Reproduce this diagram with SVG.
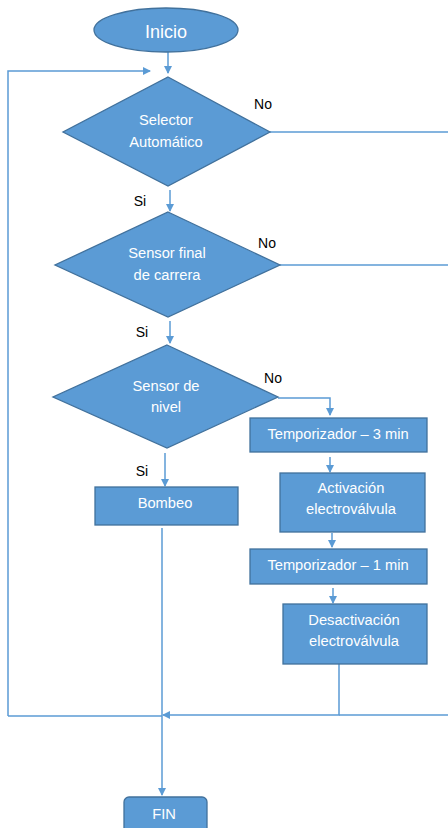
<svg xmlns="http://www.w3.org/2000/svg" width="448" height="828" viewBox="0 0 448 828">
<style>
.shape{fill:#5B9BD5;stroke:#41719C;stroke-width:1.3}
.t{font-family:"Liberation Sans",Arial,sans-serif;font-size:14.7px;fill:#fff;text-anchor:middle;dominant-baseline:central}
.lbl{font-family:"Liberation Sans",Arial,sans-serif;font-size:14px;fill:#000;text-anchor:middle;dominant-baseline:central}
.c{fill:none;stroke:#5B9BD5;stroke-width:1.5}
</style>
<defs>
<marker id="ah" markerWidth="8" markerHeight="8" refX="7" refY="4" orient="auto" markerUnits="userSpaceOnUse">
<path d="M0,0 L8,4 L0,8 Z" fill="#5B9BD5"/>
</marker>
</defs>
<rect width="448" height="828" fill="#fff"/>
<g id="connectors">
<path class="c" d="M168,52 V73" marker-end="url(#ah)"/>
<path class="c" d="M8,716 V71 H150" marker-end="url(#ah)"/>
<path class="c" d="M270,132 H448"/>
<path class="c" d="M170,190 V211" marker-end="url(#ah)"/>
<path class="c" d="M280,265 H448"/>
<path class="c" d="M170,321 V343" marker-end="url(#ah)"/>
<path class="c" d="M278,398 H330 V415" marker-end="url(#ah)"/>
<path class="c" d="M165,453 V486" marker-end="url(#ah)"/>
<path class="c" d="M330,457 V472" marker-end="url(#ah)"/>
<path class="c" d="M332,533 V547" marker-end="url(#ah)"/>
<path class="c" d="M333,588 V603" marker-end="url(#ah)"/>
<path class="c" d="M339,664 V715 H163" marker-end="url(#ah)"/>
<path class="c" d="M448,715 H339"/>
<path class="c" d="M8,716 H162"/>
<path class="c" d="M162,528 V795" marker-end="url(#ah)"/>
<text class="lbl" x="263" y="104">No</text>
<text class="lbl" x="140" y="201">Si</text>
<text class="lbl" x="267" y="243">No</text>
<text class="lbl" x="142" y="332">Si</text>
<text class="lbl" x="273" y="378">No</text>
<text class="lbl" x="142" y="471">Si</text>
</g>
<g id="inicio">
<ellipse class="shape" cx="166" cy="30" rx="72" ry="22"/>
<text class="t" x="166" y="32" style="font-size:18px">Inicio</text>
</g>
<g id="selector">
<polygon class="shape" points="168,77 270,132 168,186 63,132"/>
<text class="t" x="166" y="120">Selector</text>
<text class="t" x="166" y="142">Automático</text>
</g>
<g id="sensor-final">
<polygon class="shape" points="168,212 280,265 168,317 55,265"/>
<text class="t" x="167" y="253">Sensor final</text>
<text class="t" x="167" y="275">de carrera</text>
</g>
<g id="sensor-nivel">
<polygon class="shape" points="167,345 278,397 167,448 53,397"/>
<text class="t" x="166" y="386">Sensor de</text>
<text class="t" x="166" y="407">nivel</text>
</g>
<g id="temp3">
<rect class="shape" x="250" y="418" width="177" height="34"/>
<text class="t" x="338" y="434">Temporizador – 3 min</text>
</g>
<g id="activacion">
<rect class="shape" x="280" y="473" width="145" height="59"/>
<text class="t" x="351" y="488">Activación</text>
<text class="t" x="351" y="509">electroválvula</text>
</g>
<g id="bombeo">
<rect class="shape" x="95" y="487" width="143" height="38"/>
<text class="t" x="165" y="503">Bombeo</text>
</g>
<g id="temp1">
<rect class="shape" x="250" y="549" width="177" height="35"/>
<text class="t" x="338" y="565">Temporizador – 1 min</text>
</g>
<g id="desactivacion">
<rect class="shape" x="283" y="604" width="144" height="60"/>
<text class="t" x="354" y="620">Desactivación</text>
<text class="t" x="354" y="641">electroválvula</text>
</g>
<g id="fin">
<rect class="shape" x="124" y="797" width="83" height="40" rx="5"/>
<text class="t" x="164" y="814">FIN</text>
</g>
</svg>
